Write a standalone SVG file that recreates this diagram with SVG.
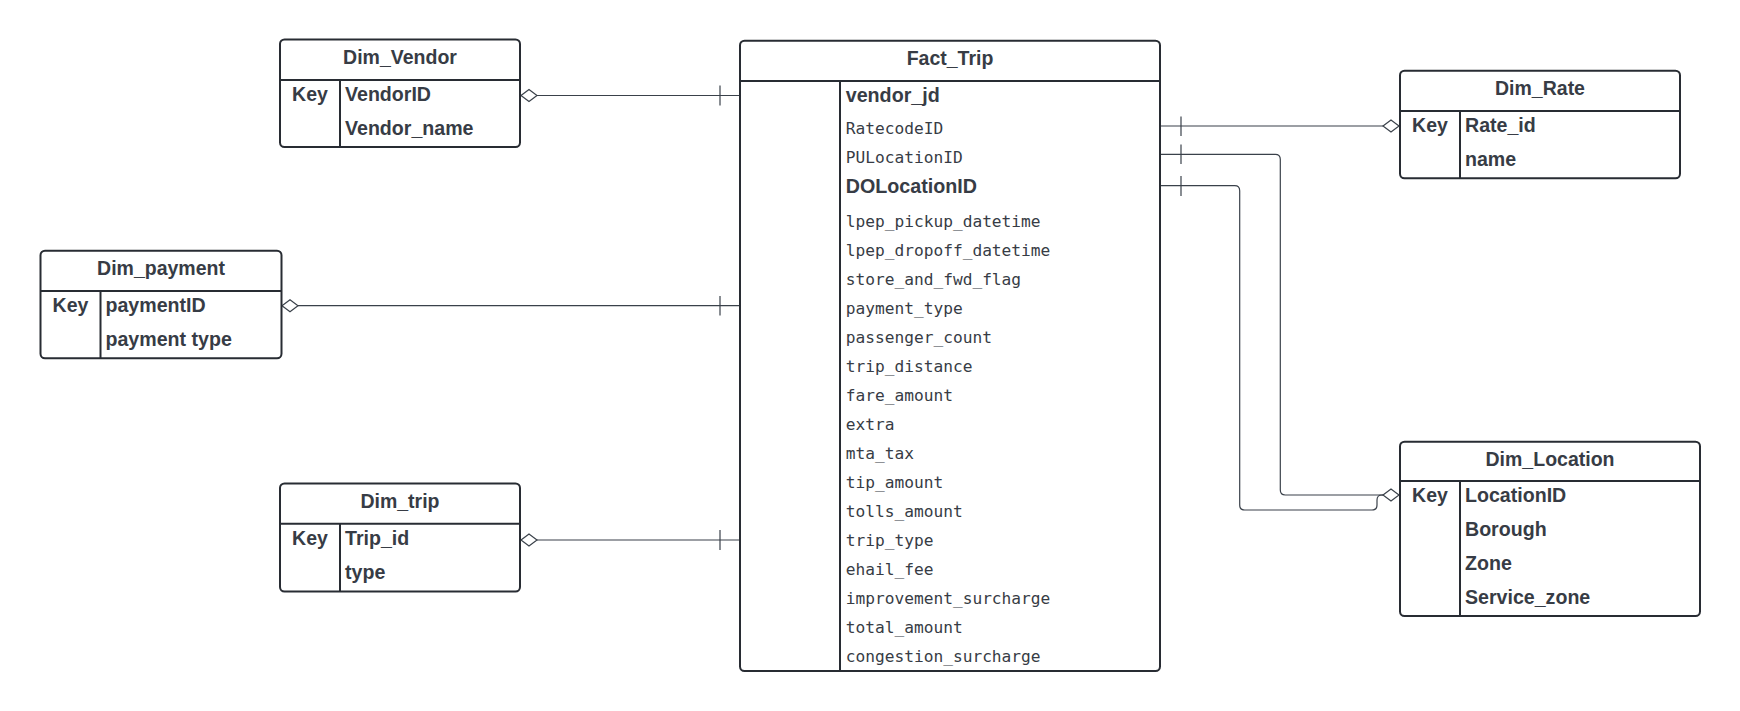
<svg xmlns="http://www.w3.org/2000/svg" width="1740" height="711" viewBox="0 0 1740 711">
<style>
.box{fill:#ffffff;stroke:#282c33;stroke-width:2}
.sep{stroke:#282c33;stroke-width:2;fill:none}
.title{font-family:"Liberation Sans",Arial,sans-serif;font-weight:bold;font-size:19.5px;fill:#373c45;text-anchor:middle}
.key{font-family:"Liberation Sans",Arial,sans-serif;font-weight:bold;font-size:19.5px;fill:#373c45;text-anchor:middle}
.fld{font-family:"Liberation Sans",Arial,sans-serif;font-weight:bold;font-size:19.6px;fill:#373c45}
.mono{font-family:"DejaVu Sans Mono","Liberation Mono",monospace;font-size:16.2px;fill:#373c45}
.con{stroke:#3a414a;stroke-width:1.2;fill:none}
.dia{stroke:#3a414a;stroke-width:1.2;fill:#ffffff}
</style>
<rect width="1740" height="711" fill="#ffffff"/>

<g id="connectors">
  <!-- Dim_Vendor -> Fact_Trip -->
  <path class="con" d="M537,95.5 H740"/>
  <path class="con" d="M720,85.5 V105.5"/>
  <polygon class="dia" points="521,95.5 529,89.5 537,95.5 529,101.5"/>
  <!-- Dim_payment -> Fact_Trip -->
  <path class="con" d="M298,305.7 H740"/>
  <path class="con" d="M720,296 V315.5"/>
  <polygon class="dia" points="282,305.7 290,299.7 298,305.7 290,311.7"/>
  <!-- Dim_trip -> Fact_Trip -->
  <path class="con" d="M537,540 H740"/>
  <path class="con" d="M720,530 V550"/>
  <polygon class="dia" points="521,540 529,534 537,540 529,546"/>
  <!-- Fact_Trip -> Dim_Rate -->
  <path class="con" d="M1160,126 H1384"/>
  <path class="con" d="M1181,116.5 V136"/>
  <polygon class="dia" points="1383,126 1391,120 1399,126 1391,132"/>
  <!-- PULocationID -> Dim_Location -->
  <path class="con" d="M1160,154.3 H1275.3 Q1280.3,154.3 1280.3,159.3 V490 Q1280.3,495 1285.3,495 H1384"/>
  <path class="con" d="M1181,144.5 V164"/>
  <!-- DOLocationID -> Dim_Location -->
  <path class="con" d="M1160,185.7 H1234.7 Q1239.7,185.7 1239.7,190.7 V505 Q1239.7,510 1244.7,510 H1372 Q1377,510 1377,505 V500 Q1377,495 1382,495 H1384"/>
  <path class="con" d="M1181,176 V196"/>
  <polygon class="dia" points="1383,495 1391,489 1399,495 1391,501"/>
</g>

<g id="Dim_Vendor">
  <rect class="box" x="280" y="39.5" width="240" height="107.5" rx="4.5"/>
  <path class="sep" d="M280,80 H520 M340,80 V147"/>
  <text class="title" x="400" y="64">Dim_Vendor</text>
  <text class="key" x="310" y="101">Key</text>
  <text class="fld" x="345" y="101">VendorID</text>
  <text class="fld" x="345" y="135">Vendor_name</text>
</g>

<g id="Dim_payment">
  <rect class="box" x="40.5" y="250.7" width="241" height="107.6" rx="4.5"/>
  <path class="sep" d="M40.5,291 H281.5 M100.5,291 V358.3"/>
  <text class="title" x="161" y="274.8">Dim_payment</text>
  <text class="key" x="70.5" y="311.5">Key</text>
  <text class="fld" x="105.5" y="311.5">paymentID</text>
  <text class="fld" x="105.5" y="345.5">payment type</text>
</g>

<g id="Dim_trip">
  <rect class="box" x="280" y="483.5" width="240" height="108" rx="4.5"/>
  <path class="sep" d="M280,523.8 H520 M340,523.8 V591.5"/>
  <text class="title" x="400" y="507.5">Dim_trip</text>
  <text class="key" x="310" y="544.5">Key</text>
  <text class="fld" x="345" y="544.5">Trip_id</text>
  <text class="fld" x="345" y="578.5">type</text>
</g>

<g id="Fact_Trip">
  <rect class="box" x="740" y="40.7" width="420" height="630.3" rx="4.5"/>
  <path class="sep" d="M740,81 H1160 M840,81 V671"/>
  <text class="title" x="950" y="65">Fact_Trip</text>
  <text class="fld" x="845.7" y="101.7" style="font-size:19.7px">vendor_jd</text>
  <text class="mono" x="845.7" y="134.3">RatecodeID</text>
  <text class="mono" x="845.7" y="163.3">PULocationID</text>
  <text class="fld" x="845.7" y="193.3" style="font-size:19.7px">DOLocationID</text>
  <text class="mono" x="845.7" y="226.7">lpep_pickup_datetime</text>
  <text class="mono" x="845.7" y="255.7">lpep_dropoff_datetime</text>
  <text class="mono" x="845.7" y="284.8">store_and_fwd_flag</text>
  <text class="mono" x="845.7" y="313.9">payment_type</text>
  <text class="mono" x="845.7" y="343">passenger_count</text>
  <text class="mono" x="845.7" y="372">trip_distance</text>
  <text class="mono" x="845.7" y="401">fare_amount</text>
  <text class="mono" x="845.7" y="430">extra</text>
  <text class="mono" x="845.7" y="459">mta_tax</text>
  <text class="mono" x="845.7" y="488.2">tip_amount</text>
  <text class="mono" x="845.7" y="517.2">tolls_amount</text>
  <text class="mono" x="845.7" y="546.2">trip_type</text>
  <text class="mono" x="845.7" y="575.2">ehail_fee</text>
  <text class="mono" x="845.7" y="604.2">improvement_surcharge</text>
  <text class="mono" x="845.7" y="633">total_amount</text>
  <text class="mono" x="845.7" y="662">congestion_surcharge</text>
</g>

<g id="Dim_Rate">
  <rect class="box" x="1400" y="70.7" width="280" height="107.6" rx="4.5"/>
  <path class="sep" d="M1400,111 H1680 M1460,111 V178.3"/>
  <text class="title" x="1540" y="95">Dim_Rate</text>
  <text class="key" x="1430" y="132">Key</text>
  <text class="fld" x="1465" y="132">Rate_id</text>
  <text class="fld" x="1465" y="166">name</text>
</g>

<g id="Dim_Location">
  <rect class="box" x="1400" y="441.7" width="300" height="174.3" rx="4.5"/>
  <path class="sep" d="M1400,481 H1700 M1460,481 V616"/>
  <text class="title" x="1550" y="465.5">Dim_Location</text>
  <text class="key" x="1430" y="502">Key</text>
  <text class="fld" x="1465" y="502">LocationID</text>
  <text class="fld" x="1465" y="536">Borough</text>
  <text class="fld" x="1465" y="570">Zone</text>
  <text class="fld" x="1465" y="603.5">Service_zone</text>
</g>
</svg>
